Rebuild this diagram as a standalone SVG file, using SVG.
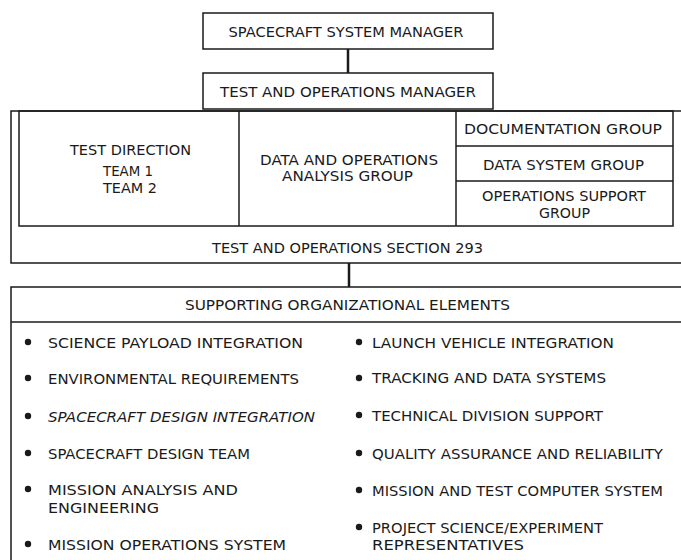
<svg xmlns="http://www.w3.org/2000/svg" width="681" height="560" viewBox="0 0 681 560">
  <style>
    .box { fill: none; stroke: #1a1a1a; stroke-width: 1.5; }
    .conn { fill: none; stroke: #1a1a1a; stroke-width: 2.5; }
    text { font-family: "DejaVu Sans", "Liberation Sans", sans-serif; font-size: 14.5px; fill: #1a1a1a; }
    .c { text-anchor: middle; }
    .sm { font-size: 14px; }
    .it { font-style: italic; }
    .dot { fill: #1a1a1a; }
  </style>
  <rect width="681" height="560" fill="#ffffff"/>

  <!-- connectors -->
  <g id="connectors">
    <line class="conn" x1="348" y1="49" x2="348" y2="73"/>
    <line class="conn" x1="349" y1="263" x2="349" y2="287"/>
  </g>

  <g id="spacecraft-system-manager">
    <rect class="box" x="203" y="13" width="290" height="36"/>
    <text class="c" x="346" y="36.5" textLength="235" lengthAdjust="spacingAndGlyphs">SPACECRAFT SYSTEM MANAGER</text>
  </g>

  <g id="test-operations-manager">
    <rect class="box" x="203" y="73" width="290" height="36"/>
    <text class="c" x="348" y="97" textLength="256" lengthAdjust="spacingAndGlyphs">TEST AND OPERATIONS MANAGER</text>
  </g>

  <g id="test-operations-section">
    <path class="box" d="M681,111 H11 V263 H681"/>
    <rect class="box" x="19" y="111" width="654" height="115"/>
    <text class="c" x="347.5" y="252.5" textLength="271" lengthAdjust="spacingAndGlyphs">TEST AND OPERATIONS SECTION 293</text>
  </g>

  <g id="test-direction">
    <line class="box" x1="239" y1="111" x2="239" y2="226"/>
    <text class="c" x="130.5" y="155" textLength="121" lengthAdjust="spacingAndGlyphs">TEST DIRECTION</text>
    <text class="c" x="128" y="176" textLength="50" lengthAdjust="spacingAndGlyphs">TEAM 1</text>
    <text class="c" x="130" y="193" textLength="54" lengthAdjust="spacingAndGlyphs">TEAM 2</text>
  </g>

  <g id="data-operations-analysis">
    <line class="box" x1="456" y1="111" x2="456" y2="226"/>
    <text class="c" x="349" y="164.5" textLength="178" lengthAdjust="spacingAndGlyphs">DATA AND OPERATIONS</text>
    <text class="c" x="347.5" y="181" textLength="131" lengthAdjust="spacingAndGlyphs">ANALYSIS GROUP</text>
  </g>

  <g id="documentation-group">
    <line class="box" x1="456" y1="146" x2="673" y2="146"/>
    <text class="c" x="563" y="134" textLength="198" lengthAdjust="spacingAndGlyphs">DOCUMENTATION GROUP</text>
  </g>

  <g id="data-system-group">
    <line class="box" x1="456" y1="181" x2="673" y2="181"/>
    <text class="c" x="563.5" y="169.5" textLength="161" lengthAdjust="spacingAndGlyphs">DATA SYSTEM GROUP</text>
  </g>

  <g id="operations-support-group">
    <text class="c sm" x="564" y="201" textLength="164" lengthAdjust="spacingAndGlyphs">OPERATIONS SUPPORT</text>
    <text class="c sm" x="564.5" y="217.5" textLength="51" lengthAdjust="spacingAndGlyphs">GROUP</text>
  </g>

  <g id="supporting-elements">
    <path class="box" d="M681,287 H11 V560"/>
    <line class="box" x1="11" y1="322" x2="681" y2="322"/>
    <text class="c" x="347.5" y="310" textLength="325" lengthAdjust="spacingAndGlyphs">SUPPORTING ORGANIZATIONAL ELEMENTS</text>

    <!-- left column -->
    <circle class="dot" cx="28" cy="342" r="3.2"/>
    <text x="48" y="347.5" textLength="255" lengthAdjust="spacingAndGlyphs">SCIENCE PAYLOAD INTEGRATION</text>
    <circle class="dot" cx="28" cy="378" r="3.2"/>
    <text x="48" y="383.5" textLength="251" lengthAdjust="spacingAndGlyphs">ENVIRONMENTAL REQUIREMENTS</text>
    <circle class="dot" cx="28" cy="416" r="3.2"/>
    <text class="it" x="48" y="421.5" textLength="267" lengthAdjust="spacingAndGlyphs">SPACECRAFT DESIGN INTEGRATION</text>
    <circle class="dot" cx="28" cy="453" r="3.2"/>
    <text x="48" y="458.5" textLength="202" lengthAdjust="spacingAndGlyphs">SPACECRAFT DESIGN TEAM</text>
    <circle class="dot" cx="28" cy="489" r="3.2"/>
    <text x="48" y="494.5" textLength="190" lengthAdjust="spacingAndGlyphs">MISSION ANALYSIS AND</text>
    <text x="48" y="512.5" textLength="111" lengthAdjust="spacingAndGlyphs">ENGINEERING</text>
    <circle class="dot" cx="28" cy="544" r="3.2"/>
    <text x="48" y="549.5" textLength="238" lengthAdjust="spacingAndGlyphs">MISSION OPERATIONS SYSTEM</text>

    <!-- right column -->
    <circle class="dot" cx="359" cy="342" r="3.2"/>
    <text x="372" y="347.5" textLength="242" lengthAdjust="spacingAndGlyphs">LAUNCH VEHICLE INTEGRATION</text>
    <circle class="dot" cx="359" cy="378" r="3.2"/>
    <text x="372" y="383" textLength="234" lengthAdjust="spacingAndGlyphs">TRACKING AND DATA SYSTEMS</text>
    <circle class="dot" cx="359" cy="415" r="3.2"/>
    <text x="372" y="420.5" textLength="231" lengthAdjust="spacingAndGlyphs">TECHNICAL DIVISION SUPPORT</text>
    <circle class="dot" cx="359" cy="453" r="3.2"/>
    <text x="372" y="458.5" textLength="291" lengthAdjust="spacingAndGlyphs">QUALITY ASSURANCE AND RELIABILITY</text>
    <circle class="dot" cx="359" cy="490" r="3.2"/>
    <text x="372" y="495.5" textLength="291" lengthAdjust="spacingAndGlyphs">MISSION AND TEST COMPUTER SYSTEM</text>
    <circle class="dot" cx="359" cy="527" r="3.2"/>
    <text x="372" y="532.5" textLength="231" lengthAdjust="spacingAndGlyphs">PROJECT SCIENCE/EXPERIMENT</text>
    <text x="372" y="549.5" textLength="152" lengthAdjust="spacingAndGlyphs">REPRESENTATIVES</text>
  </g>
</svg>
